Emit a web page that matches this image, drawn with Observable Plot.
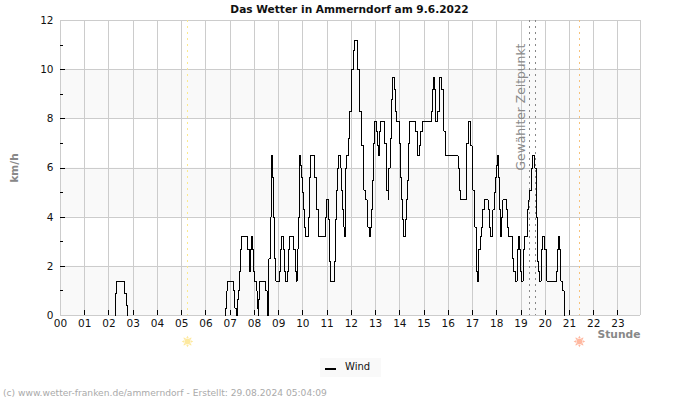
<!DOCTYPE html>
<html>
<head>
<meta charset="utf-8">
<script src="https://cdn.jsdelivr.net/npm/d3@7"></script>
<script src="https://cdn.jsdelivr.net/npm/@observablehq/plot@0.6"></script>
<style>
  html, body { margin: 0; padding: 0; background: #fff; width: 700px; height: 400px; overflow: hidden; font-family: "DejaVu Sans", sans-serif; }
  #chart { position: relative; width: 700px; height: 400px; }
  #title { position: absolute; left: 0; top: 2px; width: 699px; text-align: center; font-size: 10.6px; font-weight: bold; color: #111; line-height: 14px; }
  #legend { position: absolute; left: 320px; top: 358px; width: 61px; height: 19px; background: #f9f9f9; font-size: 10px; color: #111; }
  #legend i { position: absolute; left: 5px; top: 10px; width: 11px; height: 2px; background: #000; }
  #legend span { position: absolute; left: 25px; top: 2px; line-height: 13px; }
  #footer { position: absolute; left: 3px; top: 387px; font-size: 9.15px; line-height: 13px; color: #aaa; white-space: nowrap; }
</style>
</head>
<body>
<div id="chart">
  <div id="title">Das Wetter in Ammerndorf am 9.6.2022</div>
  <div id="plot"></div>
  <div id="legend"><i></i><span>Wind</span></div>
  <div id="footer">(c) www.wetter-franken.de/ammerndorf - Erstellt: 29.08.2024 05:04:09</div>
</div>
<script>
// Wind speed in km/h, listed as changes: a time stamp and the new value.
// Time stamps count in units of 1/60.3 hour. A null value ends a run,
// so that calm periods draw no line along the axis.
const ticksPerHour = 60.3;
const windTicks = [
  136,136,140,160,163,166,167,
  411,411,414,416,431,434,437,438,
  440,440,443,446,448,451,466,469,473,476,478,480,483,487,489,492,493,
  493,493,495,511,514,516,517,
  516,518,522,524,526,527,530,532,535,536,545,547,550,555,558,560,565,568,570,580,584,586,
  589,591,594,595,598,599,602,604,607,609,618,620,623,632,636,638,641,643,
  659,662,667,670,672,682,685,687,690,692,697,699,702,705,707,709,712,717,720,723,725,729,732,
  738,740,743,745,748,750,753,755,759,763,765,768,772,774,777,779,782,787,789,792,794,797,
  807,810,812,815,817,820,823,826,831,834,836,843,846,848,851,853,858,860,863,865,868,
  884,887,889,894,896,900,923,926,928,930,933,934,939,942,944,949,952,954,957,959,
  989,992,994,1009,1011,1014,1019,1021,1024,1026,1029,1031,1034,1036,1038,1040,1044,1047,1050,1054,
  1064,1067,1069,1074,1076,1079,1081,1084,1086,1090,1093,1095,1098,1100,1110,1112,1115,1125,1128,1131,
  1136,1140,1142,1144,1146,1151,1154,1162,1165,1168,1172,1175,1180,1183,1185,1187,1190,1191,1196,1200,
  1205,1208,1210,1234,1237,1239,1241,1244,1245,1249,1253,1255,1256
];
const windValues = [
  0,0.9,1.4,0.9,0.4,0,null,
  0,0.3,1.0,1.4,1.0,0.3,0,null,
  0,0.65,1.0,1.8,2.7,3.2,2.7,1.8,2.7,3.2,2.7,1.8,1.4,1.0,0.3,0,null,
  0,0.65,1.4,1.0,0.65,0,null,
  0,2.3,4.0,5.6,6.5,5.6,4.0,2.3,1.8,1.4,1.8,2.7,3.2,2.7,1.8,1.4,1.8,2.7,3.2,2.7,1.8,1.4,
  2.7,4.0,5.6,6.5,6.1,5.6,5.0,4.3,3.6,3.2,4.0,5.6,6.5,5.6,5.0,4.3,3.6,3.2,
  4.0,4.7,3.9,2.2,1.4,2.2,3.9,5.1,6.0,6.5,6.0,5.1,4.3,3.6,3.2,6.0,6.5,7.2,8.3,9.2,10,10.8,11.2,
  10.8,10,9.2,8.3,7.5,6.9,6.0,5.1,4.7,4.3,3.6,3.2,3.6,4.3,5.5,7.0,7.9,7.5,6.9,6.5,7.5,7.9,
  7.0,6.0,5.1,4.7,6.0,7.2,8.8,9.7,9.2,8.3,7.9,7.0,5.6,4.7,3.9,3.2,3.9,4.7,5.5,7.0,7.9,
  7.5,6.9,6.5,6.9,7.5,7.9,8.3,9.2,9.7,9.2,8.3,7.9,8.3,9.2,9.7,9.2,8.3,7.5,6.9,6.5,
  6.0,5.1,4.7,5.5,7.0,7.9,7.5,6.9,6.0,5.1,4.3,3.6,2.7,1.8,1.4,2.7,3.2,3.6,4.3,4.7,
  4.3,3.6,3.2,3.6,4.3,5.0,5.6,6.1,6.5,5.6,4.3,3.2,4.0,4.7,4.3,3.6,3.2,2.3,1.8,1.4,
  2.7,3.2,2.7,1.8,1.4,2.7,3.2,4.3,4.7,5.1,6.0,6.5,6.0,5.1,4.0,2.2,1.8,1.4,2.7,3.2,
  2.7,1.8,1.4,1.8,2.7,3.2,2.7,1.8,1.4,1.0,0.3,0,null
];

const dayEnd = 23.93;
const hourTicks = d3.range(1, 24);
const hourLabels = d3.range(0, 24);
const hourGrid = [...hourLabels, dayEnd];
const speedMajor = [2, 4, 6, 8, 10];
const speedMinor = [1, 3, 5, 7, 9, 11];
const speedGrid = [0, 2, 4, 6, 8, 10, 12];
const speedLabels = [0, 2, 4, 6, 8, 10, 12];
const bandStarts = [0, 4, 8];
const sunrise = 5.24;
const sunset = 21.41;
const selectedTimes = [19.35, 19.6];

// Small sun glyph: a disc with eight short rays.
const sunSymbol = {
  draw(ctx, size) {
    const r = Math.sqrt(size / Math.PI);
    ctx.moveTo(r, 0);
    ctx.arc(0, 0, r, 0, 2 * Math.PI);
    for (let k = 0; k < 8; k++) {
      const a = k * Math.PI / 4, w = 0.35;
      ctx.moveTo(Math.cos(a - w) * (r + 0.6), Math.sin(a - w) * (r + 0.6));
      ctx.lineTo(Math.cos(a) * (r + 2.8), Math.sin(a) * (r + 2.8));
      ctx.lineTo(Math.cos(a + w) * (r + 0.6), Math.sin(a + w) * (r + 0.6));
      ctx.closePath();
    }
  }
};

const wind = windTicks.map((t, i) => ({hour: t / ticksPerHour, speed: windValues[i]}));
const gridColor = "#cccccc";
const crisp = {shapeRendering: "crispEdges"};

const chart = Plot.plot({
  width: 700,
  height: 350,
  marginTop: 20,
  marginBottom: 35,
  marginLeft: 60,
  marginRight: 60,
  style: {fontFamily: "DejaVu Sans, sans-serif", fontSize: "10.5px", background: "transparent"},
  x: {domain: [0, dayEnd], label: null},
  y: {domain: [0, 12], label: null},
  marks: [
    // alternating horizontal bands
    Plot.rect(bandStarts, {x1: 0, x2: dayEnd, y1: d => d, y2: d => d + 2, fill: "#f9f9f9"}),
    Plot.ruleY(speedGrid, {stroke: gridColor, strokeWidth: 1, ...crisp}),
    Plot.ruleX(hourGrid, {stroke: gridColor, strokeWidth: 1, ...crisp}),
    // ticks on the inner side of the axes
    Plot.ruleX(hourTicks, {y1: 0, y2: 0.2, stroke: "#000", ...crisp}),
    Plot.ruleY(speedMajor, {x1: 0, x2: 0.21, stroke: "#000", ...crisp}),
    Plot.ruleY(speedMinor, {x1: 0, x2: 0.125, stroke: "#000", ...crisp}),
    // sunrise, sunset and the selected time span
    Plot.ruleX([sunrise], {stroke: "#fbe98f", strokeDasharray: "2,4", ...crisp}),
    Plot.ruleX([sunset], {stroke: "#f6c27c", strokeDasharray: "2,4", ...crisp}),
    Plot.ruleX(selectedTimes, {stroke: "#888", strokeDasharray: "2,4", ...crisp}),
    Plot.text(["Gewählter Zeitpunkt"], {
      x: 19.0, y: 5.9, rotate: -90, textAnchor: "start",
      fontSize: 12.3, fill: "#8a8a8a"
    }),
    Plot.line(wind, {x: "hour", y: "speed", curve: "step-after", stroke: "#000", strokeWidth: 1, ...crisp}),
    Plot.axisX(hourLabels, {
      anchor: "bottom", tickSize: 0, tickPadding: 4, fontSize: 10.5, fill: "#111",
      tickFormat: d => String(d).padStart(2, "0"), label: null
    }),
    Plot.axisY(speedLabels, {
      anchor: "left", tickSize: 0, tickPadding: 7, fontSize: 10.5, fill: "#111",
      tickFormat: d => String(d), label: null
    }),
    // sun symbols under the axis
    Plot.dot([sunrise], {x: d => d, y: 0, dy: 26, r: 3, symbol: sunSymbol, fill: "#fde9a0", stroke: "none"}),
    Plot.dot([sunset], {x: d => d, y: 0, dy: 26, r: 3, symbol: sunSymbol, fill: "#ffb8a0", stroke: "none"}),
    // axis titles
    Plot.text(["Stunde"], {x: dayEnd, y: 0, dy: 19, textAnchor: "end", fontSize: 10.7, fontWeight: "bold", fill: "#888"}),
    Plot.text(["km/h"], {x: 0, y: 6, dx: -46, rotate: -90, fontSize: 10.5, fontWeight: "bold", fill: "#888"})
  ]
});
document.getElementById("plot").appendChild(chart);
</script>
</body>
</html>
